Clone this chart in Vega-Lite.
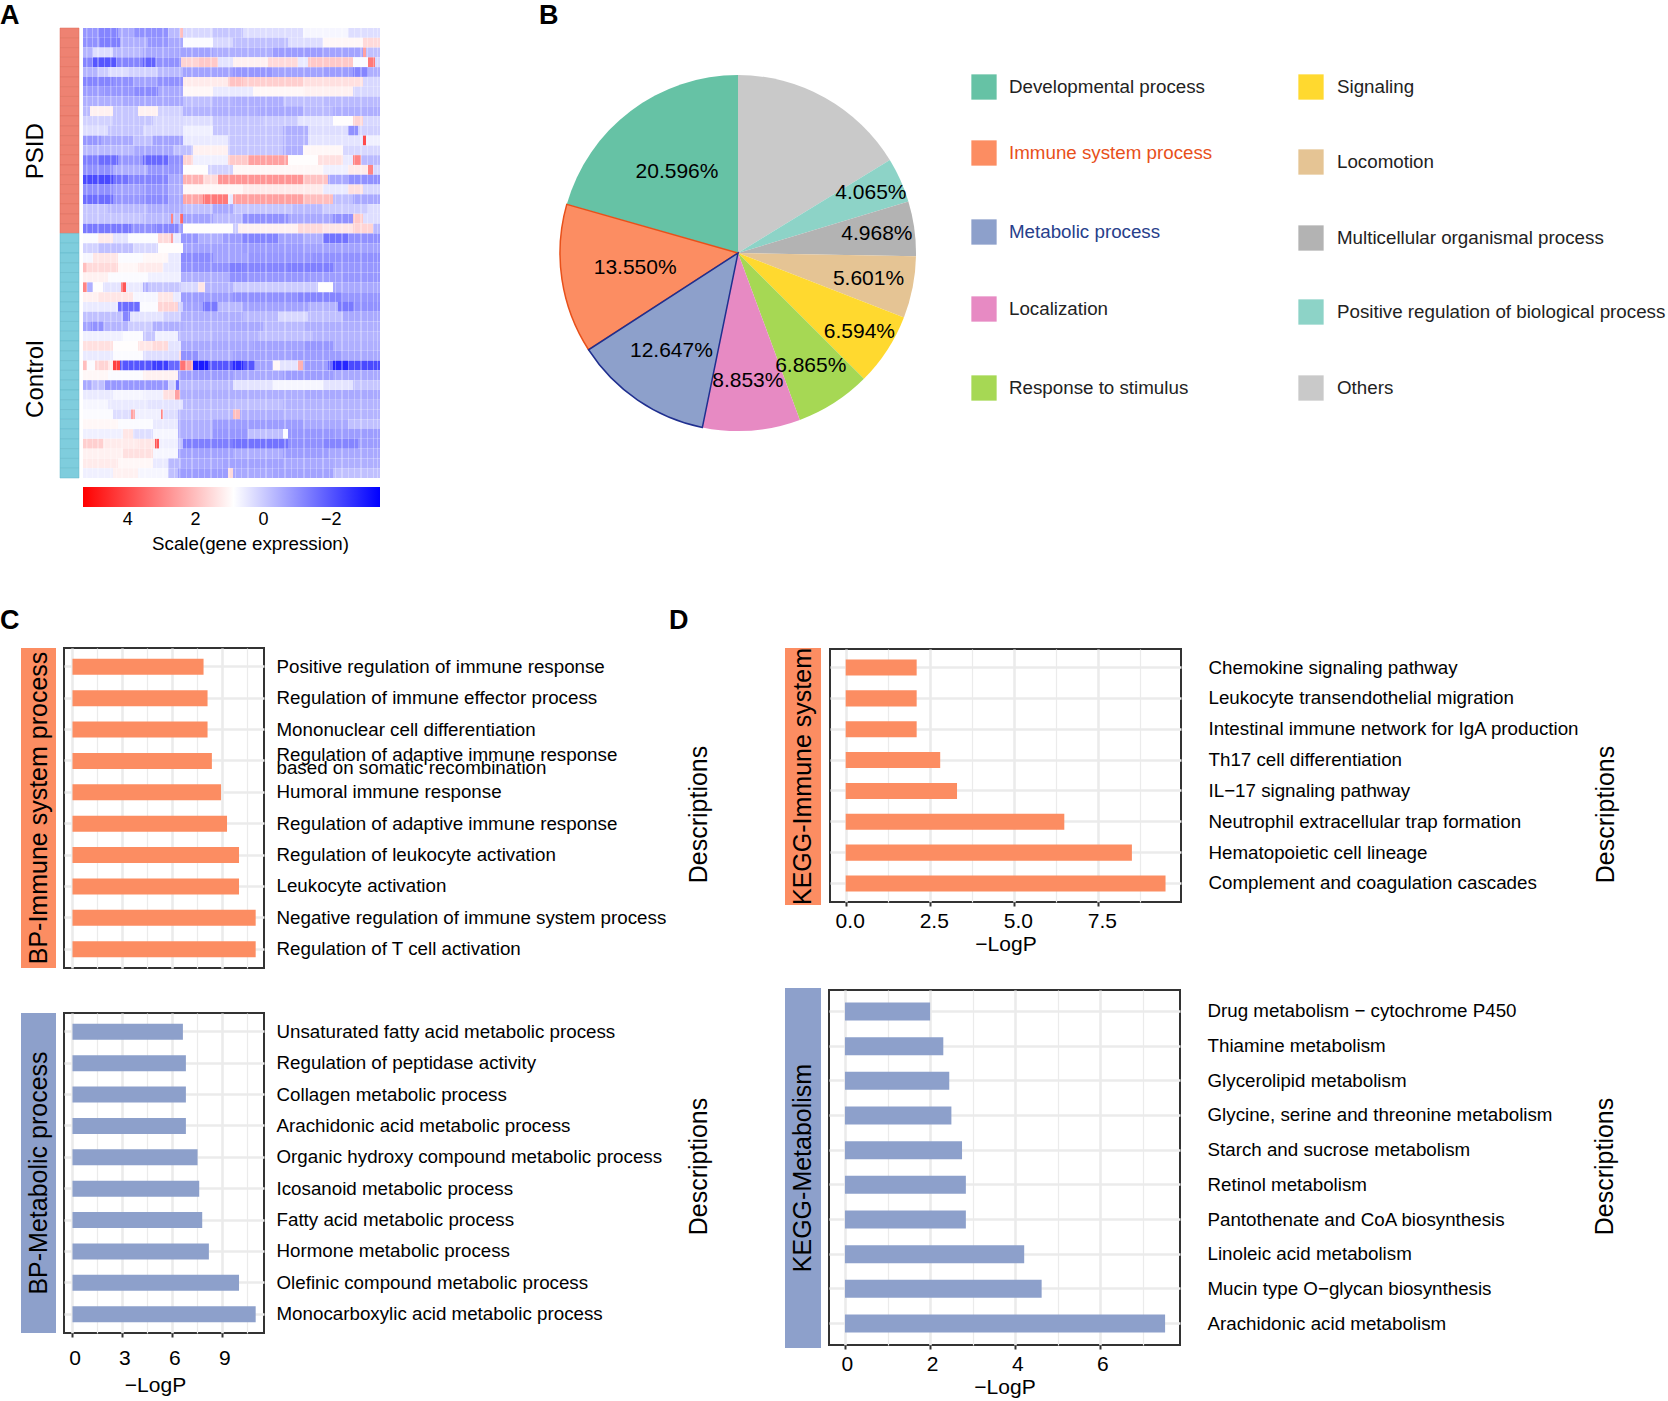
{"$schema":"https://vega.github.io/schema/vega-lite/v6.json","padding":0,"background":"white","bounds":"flush","spacing":0,
"config":{"font":"Liberation Sans","view":{"stroke":null},"axis":{"labelColor":"black","titleColor":"black","titleFontWeight":"normal","domain":false},"title":{"fontWeight":"bold","color":"black","fontSize":27,"anchor":"start","align":"left","baseline":"alphabetic"}},
"datasets":{"none":[],"pie":[{"c":"Others","p":16.261,"i":1,"l":""},{"c":"Positive regulation of biological process","p":4.065,"i":2,"l":"4.065%"},{"c":"Multicellular organismal process","p":4.968,"i":3,"l":"4.968%"},{"c":"Locomotion","p":5.601,"i":4,"l":"5.601%"},{"c":"Signaling","p":6.594,"i":5,"l":"6.594%"},{"c":"Response to stimulus","p":6.865,"i":6,"l":"6.865%"},{"c":"Localization","p":8.853,"i":7,"l":"8.853%"},{"c":"Developmental process","p":20.596,"i":10,"l":"20.596%"},{"c":"Immune system process","p":13.55,"i":9,"l":"13.550%"},{"c":"Metabolic process","p":12.647,"i":8,"l":"12.647%"}],
"stripes":[{"a":3,"b":4.5},{"a":9,"b":10},{"a":14,"b":16},{"a":21,"b":22},{"a":27,"b":28.5},{"a":33,"b":34},{"a":38,"b":40},{"a":45,"b":46},{"a":50,"b":51.5},{"a":56,"b":57},{"a":61,"b":63},{"a":68,"b":69},{"a":73,"b":74},{"a":79,"b":81},{"a":85,"b":86},{"a":91,"b":92},{"a":96,"b":97.5},{"a":103,"b":104},{"a":108,"b":110},{"a":115,"b":116},{"a":121,"b":122},{"a":127,"b":129},{"a":134,"b":135},{"a":139,"b":140},{"a":145,"b":147},{"a":152,"b":153},{"a":158,"b":159},{"a":164,"b":166},{"a":171,"b":172},{"a":177,"b":178},{"a":182,"b":184},{"a":189,"b":190},{"a":195,"b":196},{"a":201,"b":203},{"a":208,"b":209},{"a":214,"b":215},{"a":220,"b":222},{"a":227,"b":228},{"a":233,"b":234},{"a":239,"b":241},{"a":246,"b":247},{"a":252,"b":253},{"a":258,"b":260},{"a":265,"b":266},{"a":271,"b":272},{"a":277,"b":279},{"a":284,"b":285},{"a":290,"b":291},{"a":294,"b":295}],
"heat":[
{"r":1,"a":0,"b":15,"v":-0.9},{"r":1,"a":15,"b":35,"v":-1.2},{"r":1,"a":35,"b":50,"v":-0.6},{"r":1,"a":50,"b":85,"v":-1},{"r":1,"a":85,"b":97,"v":-0.3},{"r":1,"a":97,"b":100,"v":2},{"r":1,"a":100,"b":130,"v":0.2},{"r":1,"a":130,"b":160,"v":-0.1},{"r":1,"a":160,"b":220,"v":0.3},{"r":1,"a":220,"b":265,"v":0.7},{"r":1,"a":265,"b":297,"v":0.3},
{"r":2,"a":0,"b":17,"v":-1},{"r":2,"a":17,"b":37,"v":-1.3},{"r":2,"a":37,"b":65,"v":-0.5},{"r":2,"a":65,"b":85,"v":-0.9},{"r":2,"a":85,"b":100,"v":-0.6},{"r":2,"a":100,"b":130,"v":0.8},{"r":2,"a":130,"b":150,"v":0.2},{"r":2,"a":150,"b":205,"v":-0.2},{"r":2,"a":205,"b":240,"v":0.3},{"r":2,"a":240,"b":280,"v":1},{"r":2,"a":280,"b":297,"v":1.5},
{"r":3,"a":0,"b":10,"v":-0.4},{"r":3,"a":10,"b":30,"v":0.3},{"r":3,"a":30,"b":60,"v":-0.3},{"r":3,"a":60,"b":95,"v":-0.6},{"r":3,"a":95,"b":130,"v":-0.7},{"r":3,"a":130,"b":190,"v":-0.5},{"r":3,"a":190,"b":240,"v":-0.8},{"r":3,"a":240,"b":280,"v":-0.7},{"r":3,"a":280,"b":283,"v":2.5},{"r":3,"a":283,"b":297,"v":-0.2},
{"r":4,"a":0,"b":10,"v":-1.2},{"r":4,"a":10,"b":33,"v":-2},{"r":4,"a":33,"b":60,"v":-1.2},{"r":4,"a":60,"b":72,"v":-1.8},{"r":4,"a":72,"b":98,"v":-1},{"r":4,"a":98,"b":115,"v":1.6},{"r":4,"a":115,"b":135,"v":1.8},{"r":4,"a":135,"b":150,"v":0.4},{"r":4,"a":150,"b":185,"v":1.1},{"r":4,"a":185,"b":215,"v":1.5},{"r":4,"a":215,"b":225,"v":0.5},{"r":4,"a":225,"b":270,"v":1.8},{"r":4,"a":270,"b":285,"v":0.8},{"r":4,"a":285,"b":292,"v":3.2},{"r":4,"a":292,"b":297,"v":0.2},
{"r":5,"a":0,"b":15,"v":-0.4},{"r":5,"a":15,"b":25,"v":0},{"r":5,"a":25,"b":45,"v":0.3},{"r":5,"a":45,"b":75,"v":0.1},{"r":5,"a":75,"b":100,"v":-0.3},{"r":5,"a":100,"b":150,"v":-0.7},{"r":5,"a":150,"b":190,"v":-0.9},{"r":5,"a":190,"b":240,"v":-0.7},{"r":5,"a":240,"b":270,"v":-0.8},{"r":5,"a":270,"b":285,"v":-1.2},{"r":5,"a":285,"b":297,"v":-0.5},
{"r":6,"a":0,"b":30,"v":-1.2},{"r":6,"a":30,"b":50,"v":-1},{"r":6,"a":50,"b":75,"v":-0.7},{"r":6,"a":75,"b":100,"v":-1},{"r":6,"a":100,"b":145,"v":1.2},{"r":6,"a":145,"b":160,"v":1.9},{"r":6,"a":160,"b":220,"v":1.7},{"r":6,"a":220,"b":280,"v":1.4},{"r":6,"a":280,"b":297,"v":0.2},
{"r":7,"a":0,"b":20,"v":-0.8},{"r":7,"a":20,"b":50,"v":-0.9},{"r":7,"a":50,"b":75,"v":-1.1},{"r":7,"a":75,"b":100,"v":-0.6},{"r":7,"a":100,"b":130,"v":1},{"r":7,"a":130,"b":170,"v":0.5},{"r":7,"a":170,"b":220,"v":1},{"r":7,"a":220,"b":270,"v":1.1},{"r":7,"a":270,"b":297,"v":0.2},
{"r":8,"a":0,"b":40,"v":-0.5},{"r":8,"a":40,"b":100,"v":-0.6},{"r":8,"a":100,"b":130,"v":-0.2},{"r":8,"a":130,"b":150,"v":-0.4},{"r":8,"a":150,"b":200,"v":-0.5},{"r":8,"a":200,"b":240,"v":-0.2},{"r":8,"a":240,"b":297,"v":-0.3},
{"r":9,"a":0,"b":7,"v":-0.3},{"r":9,"a":7,"b":30,"v":1.1},{"r":9,"a":30,"b":55,"v":-0.1},{"r":9,"a":55,"b":75,"v":1.1},{"r":9,"a":75,"b":100,"v":0.1},{"r":9,"a":100,"b":130,"v":-0.4},{"r":9,"a":130,"b":175,"v":-0.5},{"r":9,"a":175,"b":220,"v":-0.6},{"r":9,"a":220,"b":250,"v":-0.3},{"r":9,"a":250,"b":297,"v":-0.5},
{"r":10,"a":0,"b":30,"v":0.1},{"r":10,"a":30,"b":70,"v":-0.1},{"r":10,"a":70,"b":100,"v":0.2},{"r":10,"a":100,"b":130,"v":0.3},{"r":10,"a":130,"b":180,"v":-0.1},{"r":10,"a":180,"b":215,"v":0},{"r":10,"a":215,"b":250,"v":0.4},{"r":10,"a":250,"b":270,"v":0.9},{"r":10,"a":270,"b":280,"v":1.6},{"r":10,"a":280,"b":297,"v":0.2},
{"r":11,"a":0,"b":25,"v":0.3},{"r":11,"a":25,"b":60,"v":-0.1},{"r":11,"a":60,"b":100,"v":0.2},{"r":11,"a":100,"b":130,"v":0.6},{"r":11,"a":130,"b":200,"v":-0.1},{"r":11,"a":200,"b":225,"v":-0.5},{"r":11,"a":225,"b":265,"v":0.3},{"r":11,"a":265,"b":275,"v":-1},{"r":11,"a":275,"b":297,"v":0.1},
{"r":12,"a":0,"b":18,"v":-0.9},{"r":12,"a":18,"b":50,"v":-0.6},{"r":12,"a":50,"b":70,"v":-0.2},{"r":12,"a":70,"b":100,"v":-0.7},{"r":12,"a":100,"b":145,"v":0.5},{"r":12,"a":145,"b":200,"v":-0.1},{"r":12,"a":200,"b":225,"v":-0.4},{"r":12,"a":225,"b":280,"v":0.4},{"r":12,"a":280,"b":283,"v":4},{"r":12,"a":283,"b":297,"v":0.6},
{"r":13,"a":0,"b":50,"v":-0.3},{"r":13,"a":50,"b":90,"v":-0.6},{"r":13,"a":90,"b":110,"v":-0.2},{"r":13,"a":110,"b":145,"v":1.1},{"r":13,"a":145,"b":200,"v":-0.1},{"r":13,"a":200,"b":220,"v":-0.5},{"r":13,"a":220,"b":260,"v":1},{"r":13,"a":260,"b":297,"v":0.2},
{"r":14,"a":0,"b":15,"v":-1.3},{"r":14,"a":15,"b":35,"v":-1.6},{"r":14,"a":35,"b":60,"v":-0.9},{"r":14,"a":60,"b":85,"v":-1.7},{"r":14,"a":85,"b":100,"v":-1},{"r":14,"a":100,"b":110,"v":1.6},{"r":14,"a":110,"b":145,"v":0.6},{"r":14,"a":145,"b":165,"v":1.8},{"r":14,"a":165,"b":205,"v":2.5},{"r":14,"a":205,"b":235,"v":0.9},{"r":14,"a":235,"b":260,"v":1.4},{"r":14,"a":260,"b":270,"v":0.5},{"r":14,"a":270,"b":278,"v":3},{"r":14,"a":278,"b":297,"v":-0.3},
{"r":15,"a":0,"b":30,"v":-1},{"r":15,"a":30,"b":65,"v":-0.5},{"r":15,"a":65,"b":100,"v":-0.9},{"r":15,"a":100,"b":125,"v":0.9},{"r":15,"a":125,"b":150,"v":0.1},{"r":15,"a":150,"b":240,"v":1},{"r":15,"a":240,"b":265,"v":0.6},{"r":15,"a":265,"b":285,"v":1.2},{"r":15,"a":285,"b":290,"v":3},{"r":15,"a":290,"b":297,"v":0.2},
{"r":16,"a":0,"b":30,"v":-2.2},{"r":16,"a":30,"b":45,"v":-1.5},{"r":16,"a":45,"b":85,"v":-1.2},{"r":16,"a":85,"b":100,"v":-0.6},{"r":16,"a":100,"b":120,"v":2.2},{"r":16,"a":120,"b":135,"v":1.5},{"r":16,"a":135,"b":220,"v":2.7},{"r":16,"a":220,"b":245,"v":1.9},{"r":16,"a":245,"b":265,"v":-0.6},{"r":16,"a":265,"b":297,"v":-1},
{"r":17,"a":0,"b":30,"v":-1},{"r":17,"a":30,"b":60,"v":-0.7},{"r":17,"a":60,"b":85,"v":-0.9},{"r":17,"a":85,"b":100,"v":-0.5},{"r":17,"a":100,"b":160,"v":1},{"r":17,"a":160,"b":240,"v":1.2},{"r":17,"a":240,"b":265,"v":0.5},{"r":17,"a":265,"b":280,"v":1.4},{"r":17,"a":280,"b":297,"v":0.2},
{"r":18,"a":0,"b":30,"v":-1.6},{"r":18,"a":30,"b":60,"v":-0.9},{"r":18,"a":60,"b":85,"v":-1.1},{"r":18,"a":85,"b":100,"v":-0.6},{"r":18,"a":100,"b":120,"v":2.4},{"r":18,"a":120,"b":145,"v":3.2},{"r":18,"a":145,"b":150,"v":0.5},{"r":18,"a":150,"b":220,"v":2.5},{"r":18,"a":220,"b":250,"v":2},{"r":18,"a":250,"b":270,"v":-0.2},{"r":18,"a":270,"b":297,"v":-0.6},
{"r":19,"a":0,"b":25,"v":-0.1},{"r":19,"a":25,"b":65,"v":-0.3},{"r":19,"a":65,"b":100,"v":-0.5},{"r":19,"a":100,"b":130,"v":-0.2},{"r":19,"a":130,"b":150,"v":-0.6},{"r":19,"a":150,"b":210,"v":-0.1},{"r":19,"a":210,"b":240,"v":-0.3},{"r":19,"a":240,"b":285,"v":0},{"r":19,"a":285,"b":297,"v":0.3},
{"r":20,"a":0,"b":60,"v":-0.1},{"r":20,"a":60,"b":88,"v":-0.3},{"r":20,"a":88,"b":90,"v":3},{"r":20,"a":90,"b":97,"v":-0.2},{"r":20,"a":97,"b":100,"v":3.5},{"r":20,"a":100,"b":130,"v":-0.7},{"r":20,"a":130,"b":160,"v":-0.3},{"r":20,"a":160,"b":205,"v":-1},{"r":20,"a":205,"b":250,"v":-0.6},{"r":20,"a":250,"b":270,"v":-1},{"r":20,"a":270,"b":280,"v":1.8},{"r":20,"a":280,"b":297,"v":0.3},
{"r":21,"a":0,"b":48,"v":-1.4},{"r":21,"a":48,"b":72,"v":-1},{"r":21,"a":72,"b":95,"v":-1.2},{"r":21,"a":95,"b":100,"v":-0.8},{"r":21,"a":100,"b":150,"v":0.9},{"r":21,"a":150,"b":155,"v":0},{"r":21,"a":155,"b":215,"v":1.1},{"r":21,"a":215,"b":240,"v":1.5},{"r":21,"a":240,"b":270,"v":1.3},{"r":21,"a":270,"b":290,"v":1.6},{"r":21,"a":290,"b":297,"v":-0.3},
{"r":22,"a":0,"b":15,"v":0.8},{"r":22,"a":15,"b":30,"v":1.2},{"r":22,"a":30,"b":45,"v":0.4},{"r":22,"a":45,"b":75,"v":0.8},{"r":22,"a":75,"b":88,"v":1.5},{"r":22,"a":88,"b":90,"v":2.5},{"r":22,"a":90,"b":98,"v":0.5},{"r":22,"a":98,"b":115,"v":-0.9},{"r":22,"a":115,"b":140,"v":-0.5},{"r":22,"a":140,"b":160,"v":-0.8},{"r":22,"a":160,"b":195,"v":-1.2},{"r":22,"a":195,"b":220,"v":-0.7},{"r":22,"a":220,"b":240,"v":-0.5},{"r":22,"a":240,"b":265,"v":-1.5},{"r":22,"a":265,"b":297,"v":-1},
{"r":23,"a":0,"b":15,"v":0.1},{"r":23,"a":15,"b":50,"v":-0.2},{"r":23,"a":50,"b":75,"v":0.2},{"r":23,"a":75,"b":100,"v":0.9},{"r":23,"a":100,"b":160,"v":-0.7},{"r":23,"a":160,"b":220,"v":-0.8},{"r":23,"a":220,"b":297,"v":-0.7},
{"r":24,"a":0,"b":10,"v":0.7},{"r":24,"a":10,"b":35,"v":1.3},{"r":24,"a":35,"b":60,"v":0.8},{"r":24,"a":60,"b":85,"v":1},{"r":24,"a":85,"b":98,"v":0.5},{"r":24,"a":98,"b":130,"v":-1.1},{"r":24,"a":130,"b":165,"v":-0.7},{"r":24,"a":165,"b":230,"v":-0.9},{"r":24,"a":230,"b":297,"v":-1},
{"r":25,"a":0,"b":4,"v":2},{"r":25,"a":4,"b":35,"v":1.5},{"r":25,"a":35,"b":55,"v":1},{"r":25,"a":55,"b":80,"v":1.2},{"r":25,"a":80,"b":98,"v":0.5},{"r":25,"a":98,"b":145,"v":-1},{"r":25,"a":145,"b":160,"v":-1.3},{"r":25,"a":160,"b":205,"v":-1.2},{"r":25,"a":205,"b":250,"v":-1.3},{"r":25,"a":250,"b":297,"v":-0.9},
{"r":26,"a":0,"b":25,"v":1.1},{"r":26,"a":25,"b":65,"v":0.8},{"r":26,"a":65,"b":98,"v":0.6},{"r":26,"a":98,"b":145,"v":-0.5},{"r":26,"a":145,"b":165,"v":-1},{"r":26,"a":165,"b":225,"v":-0.9},{"r":26,"a":225,"b":260,"v":-0.8},{"r":26,"a":260,"b":297,"v":-0.9},
{"r":27,"a":0,"b":4,"v":3},{"r":27,"a":4,"b":10,"v":-0.5},{"r":27,"a":10,"b":20,"v":0.9},{"r":27,"a":20,"b":38,"v":0.4},{"r":27,"a":38,"b":43,"v":3.8},{"r":27,"a":43,"b":60,"v":0.5},{"r":27,"a":60,"b":65,"v":-0.5},{"r":27,"a":65,"b":98,"v":-0.1},{"r":27,"a":98,"b":115,"v":0.2},{"r":27,"a":115,"b":122,"v":1.3},{"r":27,"a":122,"b":150,"v":-0.4},{"r":27,"a":150,"b":235,"v":0},{"r":27,"a":235,"b":250,"v":0.9},{"r":27,"a":250,"b":297,"v":-0.6},
{"r":28,"a":0,"b":15,"v":1.1},{"r":28,"a":15,"b":50,"v":1.3},{"r":28,"a":50,"b":75,"v":0.7},{"r":28,"a":75,"b":90,"v":1.3},{"r":28,"a":90,"b":98,"v":0.5},{"r":28,"a":98,"b":150,"v":-0.8},{"r":28,"a":150,"b":215,"v":-1},{"r":28,"a":215,"b":260,"v":-1.2},{"r":28,"a":260,"b":297,"v":-0.9},
{"r":29,"a":0,"b":35,"v":0.5},{"r":29,"a":35,"b":57,"v":-1.6},{"r":29,"a":57,"b":75,"v":0.8},{"r":29,"a":75,"b":95,"v":1.6},{"r":29,"a":95,"b":100,"v":0.1},{"r":29,"a":100,"b":120,"v":-0.7},{"r":29,"a":120,"b":135,"v":-1.4},{"r":29,"a":135,"b":160,"v":-0.3},{"r":29,"a":160,"b":225,"v":-0.7},{"r":29,"a":225,"b":255,"v":-0.4},{"r":29,"a":255,"b":270,"v":-1.4},{"r":29,"a":270,"b":297,"v":-1},
{"r":30,"a":0,"b":40,"v":-0.2},{"r":30,"a":40,"b":47,"v":-1.2},{"r":30,"a":47,"b":80,"v":0.4},{"r":30,"a":80,"b":98,"v":0.1},{"r":30,"a":98,"b":160,"v":-0.5},{"r":30,"a":160,"b":195,"v":-0.3},{"r":30,"a":195,"b":225,"v":0.2},{"r":30,"a":225,"b":260,"v":-0.2},{"r":30,"a":260,"b":297,"v":-0.6},
{"r":31,"a":0,"b":8,"v":-0.7},{"r":31,"a":8,"b":20,"v":-1},{"r":31,"a":20,"b":45,"v":-0.4},{"r":31,"a":45,"b":70,"v":0},{"r":31,"a":70,"b":100,"v":-0.5},{"r":31,"a":100,"b":145,"v":-0.4},{"r":31,"a":145,"b":180,"v":-0.6},{"r":31,"a":180,"b":220,"v":-0.3},{"r":31,"a":220,"b":297,"v":-0.5},
{"r":32,"a":0,"b":40,"v":0.6},{"r":32,"a":40,"b":60,"v":0.8},{"r":32,"a":60,"b":72,"v":-0.1},{"r":32,"a":72,"b":95,"v":0.6},{"r":32,"a":95,"b":130,"v":-0.3},{"r":32,"a":130,"b":175,"v":-0.4},{"r":32,"a":175,"b":230,"v":-0.2},{"r":32,"a":230,"b":297,"v":-0.4},
{"r":33,"a":0,"b":30,"v":1.4},{"r":33,"a":30,"b":55,"v":0.9},{"r":33,"a":55,"b":70,"v":1.3},{"r":33,"a":70,"b":85,"v":1.5},{"r":33,"a":85,"b":98,"v":0.4},{"r":33,"a":98,"b":170,"v":-0.6},{"r":33,"a":170,"b":220,"v":-0.7},{"r":33,"a":220,"b":250,"v":-0.9},{"r":33,"a":250,"b":297,"v":-0.5},
{"r":34,"a":0,"b":30,"v":0.5},{"r":34,"a":30,"b":60,"v":0.8},{"r":34,"a":60,"b":96,"v":0.3},{"r":34,"a":96,"b":98,"v":1.5},{"r":34,"a":98,"b":115,"v":-1},{"r":34,"a":115,"b":150,"v":-0.5},{"r":34,"a":150,"b":210,"v":-0.7},{"r":34,"a":210,"b":260,"v":-0.8},{"r":34,"a":260,"b":297,"v":-0.6},
{"r":35,"a":0,"b":4,"v":2},{"r":35,"a":4,"b":12,"v":0.8},{"r":35,"a":12,"b":25,"v":1.6},{"r":35,"a":25,"b":30,"v":1.2},{"r":35,"a":30,"b":37,"v":4.2},{"r":35,"a":37,"b":70,"v":-2},{"r":35,"a":70,"b":85,"v":-2.4},{"r":35,"a":85,"b":97,"v":-1.7},{"r":35,"a":97,"b":102,"v":3.3},{"r":35,"a":102,"b":110,"v":2.5},{"r":35,"a":110,"b":125,"v":-3},{"r":35,"a":125,"b":150,"v":-2},{"r":35,"a":150,"b":160,"v":-2.7},{"r":35,"a":160,"b":172,"v":-2},{"r":35,"a":172,"b":190,"v":-0.7},{"r":35,"a":190,"b":197,"v":1},{"r":35,"a":197,"b":215,"v":0.4},{"r":35,"a":215,"b":220,"v":2.2},{"r":35,"a":220,"b":245,"v":-0.8},{"r":35,"a":245,"b":250,"v":-1.5},{"r":35,"a":250,"b":265,"v":-2.8},{"r":35,"a":265,"b":297,"v":-2.2},
{"r":36,"a":0,"b":25,"v":1},{"r":36,"a":25,"b":60,"v":0.8},{"r":36,"a":60,"b":95,"v":1.1},{"r":36,"a":95,"b":150,"v":-0.8},{"r":36,"a":150,"b":200,"v":-0.6},{"r":36,"a":200,"b":250,"v":-0.8},{"r":36,"a":250,"b":297,"v":-0.6},
{"r":37,"a":0,"b":8,"v":-0.6},{"r":37,"a":8,"b":22,"v":-0.2},{"r":37,"a":22,"b":85,"v":-0.9},{"r":37,"a":85,"b":93,"v":0.1},{"r":37,"a":93,"b":96,"v":-1.5},{"r":37,"a":96,"b":150,"v":-0.3},{"r":37,"a":150,"b":190,"v":0.4},{"r":37,"a":190,"b":240,"v":0.7},{"r":37,"a":240,"b":270,"v":0.4},{"r":37,"a":270,"b":297,"v":-0.1},
{"r":38,"a":0,"b":30,"v":0.5},{"r":38,"a":30,"b":60,"v":0.7},{"r":38,"a":60,"b":80,"v":0.6},{"r":38,"a":80,"b":92,"v":1.4},{"r":38,"a":92,"b":97,"v":2.5},{"r":38,"a":97,"b":140,"v":-0.5},{"r":38,"a":140,"b":220,"v":-0.5},{"r":38,"a":220,"b":297,"v":-0.6},
{"r":39,"a":0,"b":25,"v":0.7},{"r":39,"a":25,"b":65,"v":0.5},{"r":39,"a":65,"b":100,"v":0.4},{"r":39,"a":100,"b":150,"v":-0.3},{"r":39,"a":150,"b":200,"v":-0.2},{"r":39,"a":200,"b":297,"v":-0.4},
{"r":40,"a":0,"b":30,"v":0.8},{"r":40,"a":30,"b":48,"v":0.3},{"r":40,"a":48,"b":52,"v":2.5},{"r":40,"a":52,"b":78,"v":0.6},{"r":40,"a":78,"b":80,"v":3},{"r":40,"a":80,"b":95,"v":0.3},{"r":40,"a":95,"b":150,"v":-0.3},{"r":40,"a":150,"b":157,"v":2},{"r":40,"a":157,"b":200,"v":-0.5},{"r":40,"a":200,"b":297,"v":-0.4},
{"r":41,"a":0,"b":35,"v":1},{"r":41,"a":35,"b":70,"v":0.8},{"r":41,"a":70,"b":95,"v":0.5},{"r":41,"a":95,"b":130,"v":-0.5},{"r":41,"a":130,"b":220,"v":-0.8},{"r":41,"a":220,"b":265,"v":-0.6},{"r":41,"a":265,"b":297,"v":-0.2},
{"r":42,"a":0,"b":40,"v":0.6},{"r":42,"a":40,"b":50,"v":1.3},{"r":42,"a":50,"b":70,"v":0.3},{"r":42,"a":70,"b":95,"v":0.7},{"r":42,"a":95,"b":130,"v":-0.5},{"r":42,"a":130,"b":165,"v":-0.9},{"r":42,"a":165,"b":200,"v":-0.2},{"r":42,"a":200,"b":205,"v":0.8},{"r":42,"a":205,"b":250,"v":-0.9},{"r":42,"a":250,"b":297,"v":-0.8},
{"r":43,"a":0,"b":20,"v":1.7},{"r":43,"a":20,"b":55,"v":1.2},{"r":43,"a":55,"b":72,"v":1.3},{"r":43,"a":72,"b":76,"v":3.8},{"r":43,"a":76,"b":95,"v":0.6},{"r":43,"a":95,"b":100,"v":-0.2},{"r":43,"a":100,"b":150,"v":-1.3},{"r":43,"a":150,"b":205,"v":-1.5},{"r":43,"a":205,"b":240,"v":-1},{"r":43,"a":240,"b":275,"v":-1.2},{"r":43,"a":275,"b":297,"v":-0.8},
{"r":44,"a":0,"b":40,"v":1.1},{"r":44,"a":40,"b":70,"v":1.4},{"r":44,"a":70,"b":95,"v":0.7},{"r":44,"a":95,"b":150,"v":-0.7},{"r":44,"a":150,"b":200,"v":-0.5},{"r":44,"a":200,"b":245,"v":-0.8},{"r":44,"a":245,"b":297,"v":-0.6},
{"r":45,"a":0,"b":35,"v":1.2},{"r":45,"a":35,"b":70,"v":1},{"r":45,"a":70,"b":85,"v":0.5},{"r":45,"a":85,"b":98,"v":-0.3},{"r":45,"a":98,"b":140,"v":-0.6},{"r":45,"a":140,"b":200,"v":-0.7},{"r":45,"a":200,"b":250,"v":-0.6},{"r":45,"a":250,"b":297,"v":-0.5},
{"r":46,"a":0,"b":30,"v":0.6},{"r":46,"a":30,"b":55,"v":1.1},{"r":46,"a":55,"b":85,"v":0.7},{"r":46,"a":85,"b":95,"v":-0.2},{"r":46,"a":95,"b":145,"v":-0.8},{"r":46,"a":145,"b":150,"v":1.5},{"r":46,"a":150,"b":190,"v":-0.6},{"r":46,"a":190,"b":250,"v":-0.7},{"r":46,"a":250,"b":297,"v":-0.2}],
"ann":[{"r":1,"g":"PSID"},{"r":2,"g":"PSID"},{"r":3,"g":"PSID"},{"r":4,"g":"PSID"},{"r":5,"g":"PSID"},{"r":6,"g":"PSID"},{"r":7,"g":"PSID"},{"r":8,"g":"PSID"},{"r":9,"g":"PSID"},{"r":10,"g":"PSID"},{"r":11,"g":"PSID"},{"r":12,"g":"PSID"},{"r":13,"g":"PSID"},{"r":14,"g":"PSID"},{"r":15,"g":"PSID"},{"r":16,"g":"PSID"},{"r":17,"g":"PSID"},{"r":18,"g":"PSID"},{"r":19,"g":"PSID"},{"r":20,"g":"PSID"},{"r":21,"g":"PSID"},{"r":22,"g":"Control"},{"r":23,"g":"Control"},{"r":24,"g":"Control"},{"r":25,"g":"Control"},{"r":26,"g":"Control"},{"r":27,"g":"Control"},{"r":28,"g":"Control"},{"r":29,"g":"Control"},{"r":30,"g":"Control"},{"r":31,"g":"Control"},{"r":32,"g":"Control"},{"r":33,"g":"Control"},{"r":34,"g":"Control"},{"r":35,"g":"Control"},{"r":36,"g":"Control"},{"r":37,"g":"Control"},{"r":38,"g":"Control"},{"r":39,"g":"Control"},{"r":40,"g":"Control"},{"r":41,"g":"Control"},{"r":42,"g":"Control"},{"r":43,"g":"Control"},{"r":44,"g":"Control"},{"r":45,"g":"Control"},{"r":46,"g":"Control"}]},
"hconcat":[
{"bounds":"flush","spacing":0,"vconcat":[
{"width":1,"height":28,"data":{"name":"none"},"mark":"rect","encoding":{}},
{"bounds":"flush","spacing":4,"hconcat":[
{"title":{"text":"A","offset":-2},"width":12,"height":450,"data":{"name":"none"},"mark":"rect","encoding":{}},
{"width":40,"height":450,"data":{"values":[{"g":"PSID","m":12.6},{"g":"Control","m":35.9}]},"mark":{"type":"text","angle":270,"fontSize":24,"color":"black"},"encoding":{"text":{"field":"g"},"y":{"field":"m","type":"quantitative","scale":{"domain":[46,0]},"axis":null}}},
{"width":19,"height":450,"data":{"name":"ann"},"mark":{"type":"rect","strokeWidth":0.5},"encoding":{"y":{"field":"r","type":"ordinal","axis":null},"color":{"field":"g","scale":{"domain":["PSID","Control"],"range":["#EE8272","#7FCDDD"]},"legend":null},"stroke":{"condition":{"test":"datum.g==='PSID'","value":"#DD6A58"},"value":"#62B7C8"}}},
{"width":297,"height":450,"layer":[
{"data":{"name":"heat"},"mark":"rect","encoding":{"x":{"field":"a","type":"quantitative","scale":{"domain":[0,297],"nice":false},"axis":null},"x2":{"field":"b"},"y":{"field":"r","type":"ordinal","axis":null},"color":{"field":"v","type":"quantitative","scale":{"domain":[-3.45,0.86,5.3],"range":["#0000FF","#FFFFFF","#FF0000"],"interpolate":"rgb"},"legend":null}}},
{"data":{"name":"stripes"},"mark":{"type":"rect","color":"white","opacity":0.3},"encoding":{"x":{"field":"a","type":"quantitative","scale":{"domain":[0,297],"nice":false},"axis":null},"x2":{"field":"b"}}}]}]},
{"width":1,"height":459,"data":{"name":"none"},"mark":"rect","encoding":{}},
{"bounds":"flush","spacing":4,"hconcat":[
{"width":79,"height":20,"data":{"name":"none"},"mark":"rect","encoding":{}},
{"width":297,"height":20,"data":{"values":[{"hi":5.3,"lo":-3.45}]},"mark":{"type":"rect","color":{"gradient":"linear","x1":0,"x2":1,"y1":0,"y2":0,"stops":[{"offset":0,"color":"#FF0000"},{"offset":0.507,"color":"#FFFFFF"},{"offset":1,"color":"#0000FF"}]}},"encoding":{"x":{"field":"hi","type":"quantitative","scale":{"domain":[5.3,-3.45],"nice":false,"zero":false},"axis":{"values":[4,2,0,-2],"ticks":false,"grid":false,"labelFontSize":18,"labelPadding":3,"title":"Scale(gene expression)","titleFontSize":18.75,"titlePadding":6,"titleX":167}},"x2":{"field":"lo"}}}]},
{"width":1,"height":161,"data":{"name":"none"},"mark":"rect","encoding":{}},
{"bounds":"flush","spacing":8,"hconcat":[
{"title":{"text":"C","offset":13},"width":13,"height":320,"data":{"name":"none"},"mark":"rect","encoding":{}},
{"width":35,"height":320,"data":{"values":[{"t":"BP-Immune system process"}]},"layer":[{"mark":{"type":"rect","color":"#FC8D62"},"encoding":{}},{"mark":{"type":"text","angle":270,"fontSize":25,"color":"black"},"encoding":{"text":{"field":"t"}}}]},
{"width":200,"height":320,"view":{"stroke":"#333333","strokeWidth":2},"data":{"values":[{"t":"Positive regulation of immune response","v":7.87},{"t":"Regulation of immune effector process","v":8.11},{"t":"Mononuclear cell differentiation","v":8.11},{"t":"Regulation of adaptive immune response\nbased on somatic recombination","v":8.37},{"t":"Humoral immune response","v":8.92},{"t":"Regulation of adaptive immune response","v":9.28},{"t":"Regulation of leukocyte activation","v":10},{"t":"Leukocyte activation","v":10},{"t":"Negative regulation of immune system process","v":11},{"t":"Regulation of T cell activation","v":11}]},"mark":{"type":"bar","color":"#FC8D62"},"encoding":{"x":{"field":"v","type":"quantitative","scale":{"domain":[-0.51,11.5],"nice":false,"zero":false},"axis":{"values":[0,1.5,3,4.5,6,7.5,9,10.5],"labels":false,"ticks":false,"title":null,"gridColor":"#EBEBEB","gridWidth":{"condition":{"test":"datum.value%3===0","value":2.6},"value":1.2}}},"y":{"field":"t","type":"nominal","sort":null,"scale":{"paddingInner":0.49,"paddingOuter":0.345},"axis":{"orient":"right","ticks":false,"grid":true,"gridColor":"#EBEBEB","gridWidth":2.6,"labelFontSize":18.75,"labelPadding":12,"labelLimit":600,"labelLineHeight":13,"labelExpr":"split(datum.label,'\\n')","labelOffset":{"condition":{"test":"indexof(datum.value,'\\n')>=0","value":-6},"value":0},"title":"Descriptions","titleFontSize":25,"titleAngle":270,"titleBaseline":"middle","titleAlign":"center","titleX":434,"titleY":166}}}}]},
{"width":1,"height":365,"data":{"name":"none"},"mark":"rect","encoding":{}},
{"bounds":"flush","spacing":8,"hconcat":[
{"width":13,"height":320,"data":{"name":"none"},"mark":"rect","encoding":{}},
{"width":35,"height":320,"data":{"values":[{"t":"BP-Metabolic process"}]},"layer":[{"mark":{"type":"rect","color":"#8DA0CB"},"encoding":{}},{"mark":{"type":"text","angle":270,"fontSize":25,"color":"black"},"encoding":{"text":{"field":"t"}}}]},
{"width":200,"height":320,"view":{"stroke":"#333333","strokeWidth":2},"data":{"values":[{"t":"Unsaturated fatty acid metabolic process","v":6.63},{"t":"Regulation of peptidase activity","v":6.81},{"t":"Collagen metabolic process","v":6.81},{"t":"Arachidonic acid metabolic process","v":6.81},{"t":"Organic hydroxy compound metabolic process","v":7.51},{"t":"Icosanoid metabolic process","v":7.61},{"t":"Fatty acid metabolic process","v":7.79},{"t":"Hormone metabolic process","v":8.19},{"t":"Olefinic compound metabolic process","v":10},{"t":"Monocarboxylic acid metabolic process","v":11}]},"mark":{"type":"bar","color":"#8DA0CB"},"encoding":{"x":{"field":"v","type":"quantitative","scale":{"domain":[-0.51,11.5],"nice":false,"zero":false},"axis":{"values":[0,1.5,3,4.5,6,7.5,9,10.5],"labelExpr":"datum.value%3===0?datum.label:''","labelFontSize":21,"labelPadding":10,"labelOffset":2,"tickColor":"#333333","tickWidth":2,"tickSize":4,"tickOpacity":{"condition":{"test":"datum.value%3===0","value":1},"value":0},"title":"−LogP","titleFontSize":21,"titlePadding":6,"titleX":91,"gridColor":"#EBEBEB","gridWidth":{"condition":{"test":"datum.value%3===0","value":2.6},"value":1.2}}},"y":{"field":"t","type":"nominal","sort":null,"scale":{"paddingInner":0.49,"paddingOuter":0.345},"axis":{"orient":"right","ticks":false,"grid":true,"gridColor":"#EBEBEB","gridWidth":2.6,"labelFontSize":18.75,"labelPadding":12,"labelLimit":600,"title":"Descriptions","titleFontSize":25,"titleAngle":270,"titleBaseline":"middle","titleAlign":"center","titleX":434,"titleY":153}}}}]}
]},
{"width":560,"height":1,"data":{"name":"none"},"mark":"rect","encoding":{}},
{"bounds":"flush","spacing":0,"vconcat":[
{"width":1,"height":75,"data":{"name":"none"},"mark":"rect","encoding":{}},
{"bounds":"flush","spacing":55,"hconcat":[
{"title":{"text":"B","offset":45,"dx":-18},"width":356,"height":356,"data":{"name":"pie"},"layer":[
{"mark":{"type":"arc","strokeWidth":1.5},"encoding":{"theta":{"field":"p","type":"quantitative","stack":true},"order":{"field":"i"},"color":{"field":"c","scale":{"domain":["Others","Positive regulation of biological process","Multicellular organismal process","Locomotion","Signaling","Response to stimulus","Localization","Metabolic process","Immune system process","Developmental process"],"range":["#C9C9C9","#8DD3C7","#B3B3B3","#E5C494","#FFD92F","#A6D854","#E78AC3","#8DA0CB","#FC8D62","#66C2A5"]},"legend":null},"stroke":{"condition":[{"test":"datum.c==='Metabolic process'","value":"#1F2F8F"},{"test":"datum.c==='Immune system process'","value":"#E8501A"}],"value":null}}},
{"mark":{"type":"text","fontSize":21,"color":"black"},"encoding":{"theta":{"field":"p","type":"quantitative","stack":true},"order":{"field":"i"},"text":{"field":"l"},"radius":{"field":"p","type":"quantitative","scale":{"domain":[4,5,5.6,6.6,6.8,9,12.7,13.5,21],"range":[146,140,133,145,135,128,118,104,101],"zero":false,"nice":false}}}}],"resolve":{"scale":{"theta":"shared","radius":"independent"}}},
{"width":26,"height":325,"data":{"values":[{"c":"Developmental process","n":1},{"c":"Immune system process","n":2},{"c":"Metabolic process","n":3},{"c":"Localization","n":4},{"c":"Response to stimulus","n":5}]},"encoding":{"y":{"field":"n","type":"quantitative","scale":{"domain":[1,2,3,4,5],"range":[12,78,157,234,313],"zero":false,"nice":false},"axis":null}},"layer":[
{"mark":{"type":"square","size":640,"opacity":1},"encoding":{"color":{"field":"c","scale":{"domain":["Developmental process","Immune system process","Metabolic process","Localization","Response to stimulus"],"range":["#66C2A5","#FC8D62","#8DA0CB","#E78AC3","#A6D854"]},"legend":null}}},
{"mark":{"type":"text","align":"left","dx":25,"fontSize":18.75},"encoding":{"text":{"field":"c"},"color":{"field":"c","scale":{"domain":["Developmental process","Immune system process","Metabolic process","Localization","Response to stimulus"],"range":["#222222","#E8501A","#27408B","#222222","#222222"]},"legend":null}}}],"resolve":{"scale":{"color":"independent"}}},
{"width":191,"height":325,"data":{"name":"none"},"mark":"rect","encoding":{}},
{"width":26,"height":325,"data":{"values":[{"c":"Signaling","n":1},{"c":"Locomotion","n":2},{"c":"Multicellular organismal process","n":3},{"c":"Positive regulation of biological process","n":4},{"c":"Others","n":5}]},"encoding":{"y":{"field":"n","type":"quantitative","scale":{"domain":[1,2,3,4,5],"range":[12,87,163,237,313],"zero":false,"nice":false},"axis":null}},"layer":[
{"mark":{"type":"square","size":640,"opacity":1},"encoding":{"color":{"field":"c","scale":{"domain":["Signaling","Locomotion","Multicellular organismal process","Positive regulation of biological process","Others"],"range":["#FFD92F","#E5C494","#B3B3B3","#8DD3C7","#D9D9D9"]},"legend":null}}},
{"mark":{"type":"text","align":"left","dx":26,"fontSize":18.75,"color":"#222222"},"encoding":{"text":{"field":"c"}}}]}]},
{"width":1,"height":573,"data":{"name":"none"},"mark":"rect","encoding":{}},
{"bounds":"flush","spacing":9,"hconcat":[
{"title":{"text":"D","offset":13,"dx":109},"width":216,"height":257,"data":{"name":"none"},"mark":"rect","encoding":{}},
{"width":36,"height":257,"data":{"values":[{"t":"KEGG-Immune system"}]},"layer":[{"mark":{"type":"rect","color":"#FC8D62"},"encoding":{}},{"mark":{"type":"text","angle":270,"fontSize":25,"color":"black"},"encoding":{"text":{"field":"t"}}}]}]},
{"width":1,"height":1,"data":{"name":"none"},"mark":"rect","encoding":{}},
{"bounds":"flush","spacing":9,"hconcat":[
{"width":261,"height":1,"data":{"name":"none"},"mark":"rect","encoding":{}},
{"width":351,"height":253,"view":{"stroke":"#333333","strokeWidth":2},"data":{"values":[{"t":"Chemokine signaling pathway","v":2.11},{"t":"Leukocyte transendothelial migration","v":2.11},{"t":"Intestinal immune network for IgA production","v":2.11},{"t":"Th17 cell differentiation","v":2.81},{"t":"IL−17 signaling pathway","v":3.31},{"t":"Neutrophil extracellular trap formation","v":6.5},{"t":"Hematopoietic cell lineage","v":8.51},{"t":"Complement and coagulation cascades","v":9.51}]},"mark":{"type":"bar","color":"#FC8D62"},"encoding":{"x":{"field":"v","type":"quantitative","scale":{"domain":[-0.467,9.97],"nice":false,"zero":false},"axis":{"values":[0,1.25,2.5,3.75,5,6.25,7.5,8.75],"format":".1f","labelExpr":"datum.value%2.5===0?datum.label:''","labelFontSize":21,"labelPadding":4,"labelOffset":4,"tickColor":"#333333","tickWidth":2,"tickSize":4,"tickOpacity":{"condition":{"test":"datum.value%2.5===0","value":1},"value":0},"title":"−LogP","titleFontSize":21,"titlePadding":2,"gridColor":"#EBEBEB","gridWidth":{"condition":{"test":"datum.value%2.5===0","value":2.6},"value":1.2}}},"y":{"field":"t","type":"nominal","sort":null,"scale":{"paddingInner":0.48,"paddingOuter":0.34},"axis":{"orient":"right","ticks":false,"grid":true,"gridColor":"#EBEBEB","gridWidth":2.6,"labelFontSize":18.75,"labelPadding":27,"labelLimit":600,"title":"Descriptions","titleFontSize":25,"titleAngle":270,"titleBaseline":"middle","titleAlign":"center","titleX":424,"titleY":165}}}}]},
{"width":1,"height":339,"data":{"name":"none"},"mark":"rect","encoding":{}},
{"bounds":"flush","spacing":9,"hconcat":[
{"width":216,"height":360,"data":{"name":"none"},"mark":"rect","encoding":{}},
{"width":36,"height":360,"data":{"values":[{"t":"KEGG-Metabolism"}]},"layer":[{"mark":{"type":"rect","color":"#8DA0CB"},"encoding":{}},{"mark":{"type":"text","angle":270,"fontSize":25,"color":"black"},"encoding":{"text":{"field":"t"}}}]}]},
{"width":1,"height":2,"data":{"name":"none"},"mark":"rect","encoding":{}},
{"bounds":"flush","spacing":9,"hconcat":[
{"width":260,"height":1,"data":{"name":"none"},"mark":"rect","encoding":{}},
{"width":351,"height":355,"view":{"stroke":"#333333","strokeWidth":2},"data":{"values":[{"t":"Drug metabolism − cytochrome P450","v":2},{"t":"Thiamine metabolism","v":2.31},{"t":"Glycerolipid metabolism","v":2.45},{"t":"Glycine, serine and threonine metabolism","v":2.5},{"t":"Starch and sucrose metabolism","v":2.75},{"t":"Retinol metabolism","v":2.84},{"t":"Pantothenate and CoA biosynthesis","v":2.84},{"t":"Linoleic acid metabolism","v":4.21},{"t":"Mucin type O−glycan biosynthesis","v":4.62},{"t":"Arachidonic acid metabolism","v":7.52}]},"mark":{"type":"bar","color":"#8DA0CB"},"encoding":{"x":{"field":"v","type":"quantitative","scale":{"domain":[-0.375,7.87],"nice":false,"zero":false},"axis":{"values":[0,1,2,3,4,5,6,7],"labelExpr":"datum.value%2===0?datum.label:''","labelFontSize":21,"labelPadding":4,"labelOffset":2,"tickColor":"#333333","tickWidth":2,"tickSize":4,"tickOpacity":{"condition":{"test":"datum.value%2===0","value":1},"value":0},"title":"−LogP","titleFontSize":21,"titlePadding":2,"gridColor":"#EBEBEB","gridWidth":{"condition":{"test":"datum.value%2===0","value":2.6},"value":1.2}}},"y":{"field":"t","type":"nominal","sort":null,"scale":{"paddingInner":0.48,"paddingOuter":0.36},"axis":{"orient":"right","ticks":false,"grid":true,"gridColor":"#EBEBEB","gridWidth":2.6,"labelFontSize":18.75,"labelPadding":27,"labelLimit":600,"title":"Descriptions","titleFontSize":25,"titleAngle":270,"titleBaseline":"middle","titleAlign":"center","titleX":424,"titleY":176}}}}]}
]}
]}
